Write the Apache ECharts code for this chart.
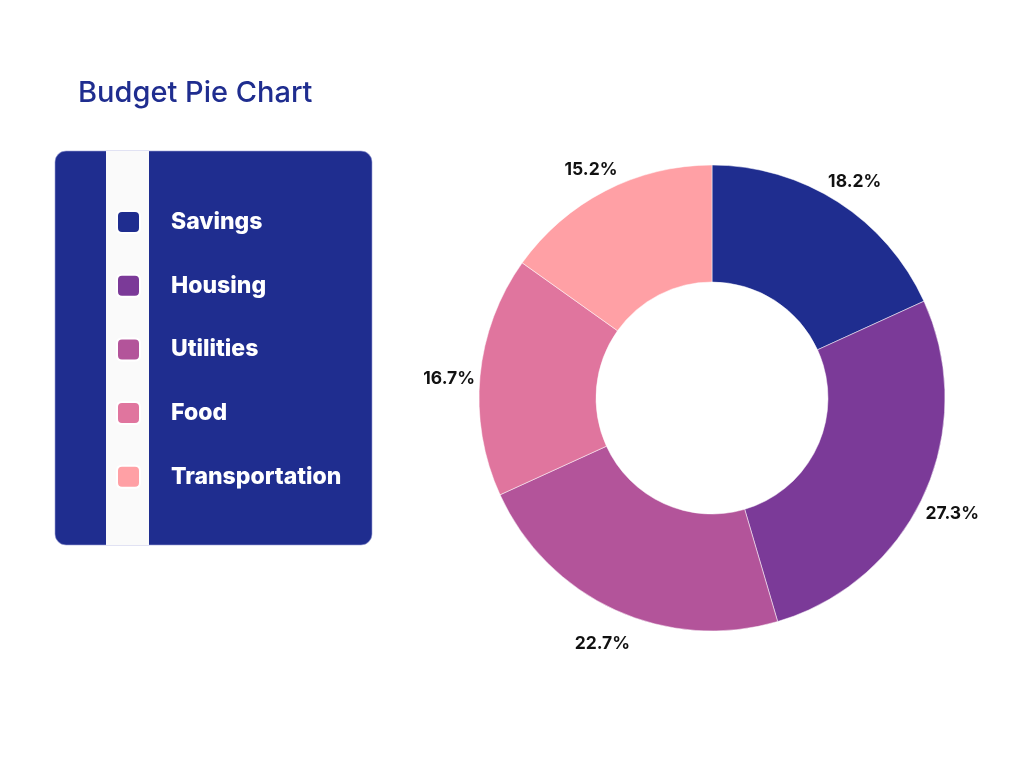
<!DOCTYPE html>
<html>
<head>
<meta charset="utf-8">
<script src="https://cdn.jsdelivr.net/npm/echarts@6/dist/echarts.min.js"></script>
<style>
html,body{margin:0;padding:0;background:#fff;}
#chart{width:1024px;height:768px;}
</style>
</head>
<body>
<div id="chart"></div>
<script>
const categories = ['Savings', 'Housing', 'Utilities', 'Food', 'Transportation'];
const values = [12, 18, 15, 11, 10];
const colors = ['#1f2d8f', '#7b3a98', '#b3549a', '#e0759e', '#ffa0a5'];

const chart = echarts.init(document.getElementById('chart'));
const pieData = categories.map((c, i) => ({ name: c, value: values[i], itemStyle: { color: colors[i] } }));
const labelData = categories.map((c, i) => ({ name: c, value: values[i] }));

const roundIcon = 'path://M5,0 H18 Q23,0 23,5 V17 Q23,22 18,22 H5 Q0,22 0,17 V5 Q0,0 5,0 Z';

chart.setOption({
  animation: false,
  title: {
    text: 'Budget Pie Chart',
    left: 73,
    top: 74,
    textStyle: { color: '#1f2d8f', fontFamily: 'Inter', fontWeight: 500, fontSize: 29 }
  },
  graphic: [
    { type: 'rect', shape: { x: 55, y: 151, width: 317, height: 394, r: 11 }, style: { fill: '#1f2d8f', stroke: '#9aa0d6', lineWidth: 0.6 }, z: 0 },
    { type: 'rect', shape: { x: 106, y: 151, width: 43, height: 394 }, style: { fill: '#fafafa' }, z: 1 }
  ],
  legend: {
    orient: 'vertical',
    left: 116,
    top: 210,
    padding: 0,
    itemWidth: 23,
    itemHeight: 22,
    itemGap: 39.7,
    icon: roundIcon,
    selectedMode: false,
    data: categories,
    textStyle: { color: '#ffffff', fontFamily: 'Inter', fontWeight: 800, fontSize: 23, lineHeight: 22, padding: [0, 0, 0, 26] },
    z: 10
  },
  series: [
    {
      type: 'pie',
      center: [712, 398],
      radius: [116, 233],
      startAngle: 90,
      clockwise: true,
      label: { show: false },
      labelLine: { show: false },
      itemStyle: { borderColor: '#ffffff', borderWidth: 0.5 },
      data: pieData
    },
    {
      type: 'pie',
      silent: true,
      center: [712, 398],
      radius: [233, 289],
      startAngle: 90,
      clockwise: true,
      itemStyle: { color: 'rgba(0,0,0,0)' },
      label: {
        show: true,
        position: 'inside',
        offset: [0, 6],
        formatter: p => p.percent.toFixed(1) + '%',
        color: '#111111',
        fontFamily: 'Inter',
        fontWeight: 'bold',
        fontSize: 17.5
      },
      labelLine: { show: false },
      emphasis: { disabled: true },
      data: labelData
    }
  ]
});
</script>
</body>
</html>
